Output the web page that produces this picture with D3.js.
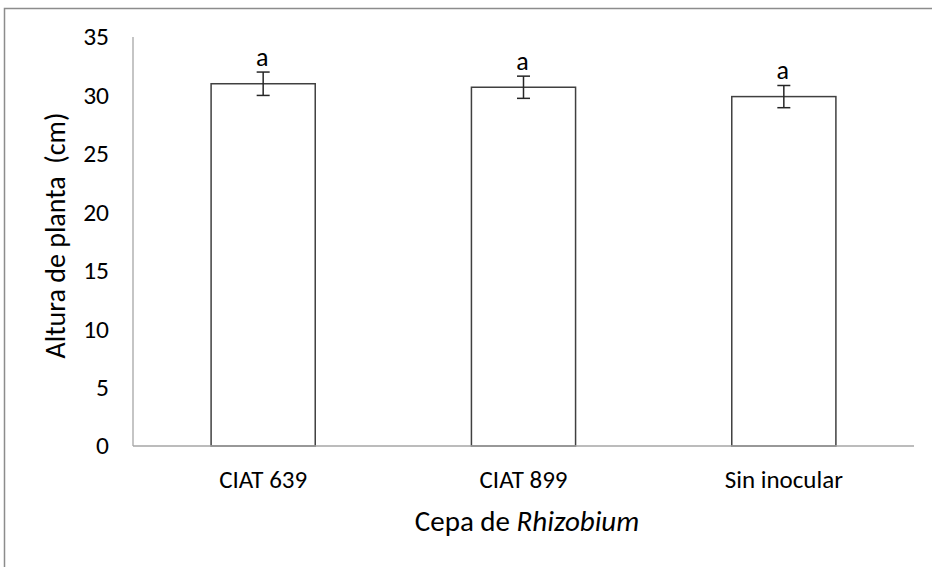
<!DOCTYPE html>
<html>
<head>
<meta charset="utf-8">
<script src="https://cdn.jsdelivr.net/npm/d3@7"></script>
<style>
  body { margin: 0; background: #fff; }
  text { font-family: Carlito, Lato, "Open Sans", sans-serif; fill: #000; }
</style>
</head>
<body>
<script>
var width = 932;
var height = 567;

var categories = ['CIAT 639', 'CIAT 899', 'Sin inocular'];
var means = [31.0, 30.7, 29.9];
var errors = [1.0, 0.95, 0.95];
var letters = ['a', 'a', 'a'];
var yTicks = [0, 5, 10, 15, 20, 25, 30, 35];

var svg = d3.select('body')
    .append('svg')
    .attr('width', width)
    .attr('height', height);

// outer frame (only top and left visible in the original crop)
svg.append('path')
    .attr('d', 'M4.5,' + height + 'V8.5H' + width)
    .attr('fill', 'none')
    .attr('stroke', '#8c8c8c')
    .attr('stroke-width', 1.5);

var x = d3.scaleBand()
    .domain(categories)
    .range([133, 914])
    .paddingInner(0.6)
    .paddingOuter(0.3);

var y = d3.scaleLinear()
    .domain([0, 35])
    .range([446, 37]);

// y axis line
svg.append('line')
    .attr('x1', 133).attr('x2', 133)
    .attr('y1', y(35)).attr('y2', y(0))
    .attr('stroke', '#a6a6a6')
    .attr('stroke-width', 1.3);

// y tick labels
svg.selectAll('.ytick')
    .data(yTicks)
    .enter().append('text')
    .attr('class', 'ytick')
    .attr('x', 109)
    .attr('y', function(d) { return y(d); })
    .attr('dy', '0.33em')
    .attr('text-anchor', 'end')
    .style('font-size', '25.5px')
    .text(function(d) { return d; });

// bars
svg.selectAll('.bar')
    .data(means)
    .enter().append('rect')
    .attr('class', 'bar')
    .attr('x', function(d, i) { return x(categories[i]); })
    .attr('width', x.bandwidth())
    .attr('y', function(d) { return y(d); })
    .attr('height', function(d) { return y(0) - y(d); })
    .attr('fill', '#fff')
    .attr('stroke', '#404040')
    .attr('stroke-width', 1.5);

// x axis line
svg.append('line')
    .attr('x1', 133).attr('x2', 914)
    .attr('y1', y(0)).attr('y2', y(0))
    .attr('stroke', '#a6a6a6')
    .attr('stroke-width', 1.5);

// error bars
var eb = svg.selectAll('.err')
    .data(means)
    .enter().append('g')
    .attr('class', 'err')
    .attr('stroke', '#262626')
    .attr('stroke-width', 1.5);

eb.append('line')
    .attr('x1', function(d, i) { return x(categories[i]) + x.bandwidth() / 2; })
    .attr('x2', function(d, i) { return x(categories[i]) + x.bandwidth() / 2; })
    .attr('y1', function(d, i) { return y(d + errors[i]); })
    .attr('y2', function(d, i) { return y(d - errors[i]); });

[1, -1].forEach(function(s) {
    eb.append('line')
        .attr('x1', function(d, i) { return x(categories[i]) + x.bandwidth() / 2 - 6.5; })
        .attr('x2', function(d, i) { return x(categories[i]) + x.bandwidth() / 2 + 6.5; })
        .attr('y1', function(d, i) { return y(d + s * errors[i]); })
        .attr('y2', function(d, i) { return y(d + s * errors[i]); });
});

// significance letters
svg.selectAll('.letter')
    .data(means)
    .enter().append('text')
    .attr('class', 'letter')
    .attr('x', function(d, i) { return x(categories[i]) + x.bandwidth() / 2 - 1; })
    .attr('y', function(d, i) { return y(d + errors[i]) - 6.5; })
    .attr('text-anchor', 'middle')
    .style('font-size', '26px')
    .text(function(d, i) { return letters[i]; });

// x tick labels
svg.selectAll('.xtick')
    .data(categories)
    .enter().append('text')
    .attr('class', 'xtick')
    .attr('x', function(d) { return x(d) + x.bandwidth() / 2; })
    .attr('y', 488)
    .attr('text-anchor', 'middle')
    .style('font-size', '25px')
    .text(function(d) { return d; });

// axis titles
var xt = svg.append('text')
    .attr('x', 527)
    .attr('y', 531)
    .attr('text-anchor', 'middle')
    .style('font-size', '29px');
xt.append('tspan').text('Cepa de ');
xt.append('tspan').style('font-style', 'italic').text('Rhizobium');

svg.append('text')
    .attr('transform', 'translate(65,235.5) rotate(-90)')
    .attr('text-anchor', 'middle')
    .style('font-size', '28px')
    .style('white-space', 'pre')
    .attr('xml:space', 'preserve')
    .text('Altura de planta  (cm)');
</script>
</body>
</html>
